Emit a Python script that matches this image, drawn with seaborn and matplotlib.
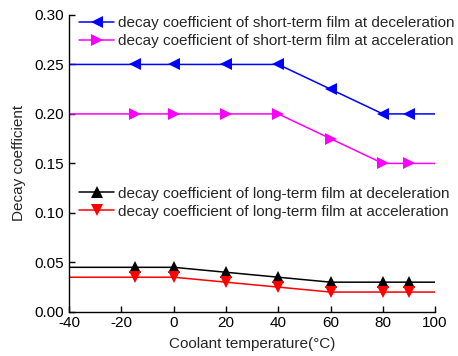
import matplotlib
matplotlib.use("Agg")
import matplotlib.pyplot as plt
import seaborn as sns
import pandas as pd

temps = [-40, -15, 0, 20, 40, 60, 80, 90, 100]
short_decel = [0.25, 0.25, 0.25, 0.25, 0.25, 0.225, 0.20, 0.20, 0.20]
short_accel = [0.20, 0.20, 0.20, 0.20, 0.20, 0.175, 0.15, 0.15, 0.15]
long_decel = [0.045, 0.045, 0.045, 0.040, 0.035, 0.030, 0.030, 0.030, 0.030]
long_accel = [0.035, 0.035, 0.035, 0.030, 0.025, 0.020, 0.020, 0.020, 0.020]

labels = [
    "decay coefficient of short-term film at deceleration",
    "decay coefficient of short-term film at acceleration",
    "decay coefficient of long-term film at deceleration",
    "decay coefficient of long-term film at acceleration",
]
series = [short_decel, short_accel, long_decel, long_accel]
colors = ["#0000ff", "#ff00ff", "#000000", "#ff0000"]
markers = ["<", ">", "^", "v"]

sns.set_style("ticks")
plt.rcParams["font.family"] = ["Liberation Sans", "DejaVu Sans"]
plt.rcParams["axes.unicode_minus"] = False

fig = plt.figure(figsize=(4.58, 3.56), dpi=100)
ax = fig.add_axes([0.151, 0.124, 0.799, 0.834])

handles = []
for vals, lab, c, m in zip(series, labels, colors, markers):
    df = pd.DataFrame({"t": temps, "v": vals})
    sns.lineplot(data=df, x="t", y="v", ax=ax, color=c, marker=m, markersize=8,
                 markeredgewidth=0, linewidth=1.1, markevery=list(range(1, 8)),
                 label=lab, legend=False)
    handles.append(ax.lines[-1])

ax.set_xlim(-40, 100)
ax.set_ylim(0, 0.30)
ax.set_xticks(range(-40, 101, 20))
ax.set_yticks([0, 0.05, 0.10, 0.15, 0.20, 0.25, 0.30])
ax.set_yticklabels(["0.00", "0.05", "0.10", "0.15", "0.20", "0.25", "0.30"])
ax.tick_params(labelsize=11, direction="in", length=4, width=1, colors="black")
ax.tick_params(axis="y", pad=4)
ax.tick_params(axis="x", pad=3)
ax.set_xlabel("Coolant temperature(\u00b0C)", fontsize=11, labelpad=5)
ax.set_ylabel("Decay coefficient", fontsize=11, labelpad=6)
for s in ["top", "right"]:
    ax.spines[s].set_visible(False)
for s in ["left", "bottom"]:
    ax.spines[s].set_color("black")
    ax.spines[s].set_linewidth(1)

kw = dict(frameon=False, fontsize=11, handlelength=2.3, handletextpad=0.25,
          labelspacing=0.25, borderaxespad=0.0, borderpad=0.3)
leg1 = ax.legend(handles[:2], labels[:2], loc="upper left",
                 bbox_to_anchor=(0.015, 1.011), **kw)
ax.add_artist(leg1)
ax.legend(handles[2:], labels[2:], loc="upper left",
          bbox_to_anchor=(0.015, 0.437), **kw)

fig.savefig("out.png", dpi=100)
